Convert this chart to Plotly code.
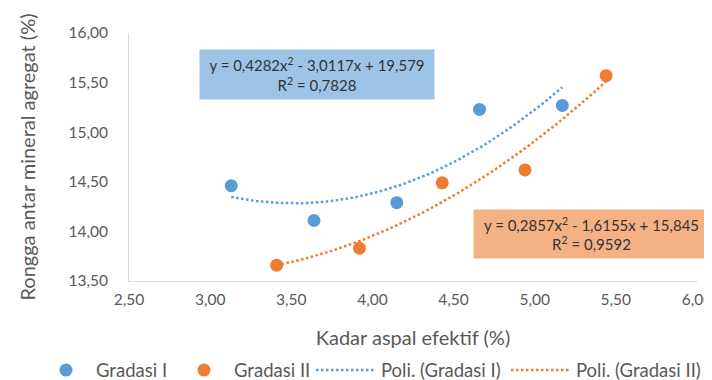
import numpy as np
import plotly.graph_objects as go

# Data
x_g1 = [3.13, 3.64, 4.15, 4.66, 5.17]
y_g1 = [14.46, 14.11, 14.29, 15.23, 15.27]
x_g2 = [3.41, 3.92, 4.43, 4.94, 5.44]
y_g2 = [13.66, 13.83, 14.49, 14.62, 15.57]

# Polynomial trendline coefficients (from chart labels)
coef_g1 = [0.4282, -3.0117, 19.579]
coef_g2 = [0.2857, -1.6155, 15.845]
r2_g1 = "0,7828"
r2_g2 = "0,9592"

x_ticks = [2.5, 3.0, 3.5, 4.0, 4.5, 5.0, 5.5, 6.0]
y_ticks = [13.5, 14.0, 14.5, 15.0, 15.5, 16.0]

BLUE = "#5B9BD5"
ORANGE = "#ED7D31"
FONT = "Lato"
GREY = "#595959"

fig = go.Figure()
fig.add_trace(go.Scatter(x=x_g1, y=y_g1, mode="markers", name="Gradasi I",
                         legend="legend", legendwidth=73,
                         marker=dict(color=BLUE, size=13)))
fig.add_trace(go.Scatter(x=x_g2, y=y_g2, mode="markers", name="Gradasi II",
                         legend="legend", legendwidth=73,
                         marker=dict(color=ORANGE, size=13)))

tx1 = np.linspace(min(x_g1), max(x_g1), 80)
tx2 = np.linspace(min(x_g2), max(x_g2), 80)
fig.add_trace(go.Scatter(x=tx1, y=np.polyval(coef_g1, tx1), mode="lines",
                         name="Poli. (Gradasi I)", legend="legend2", legendwidth=120,
                         line=dict(color=BLUE, width=2.5, dash="2.5px,2.5px")))
fig.add_trace(go.Scatter(x=tx2, y=np.polyval(coef_g2, tx2), mode="lines",
                         name="Poli. (Gradasi II)", legend="legend2", legendwidth=120,
                         line=dict(color=ORANGE, width=2.5, dash="2.5px,2.5px")))

def fmt(v):
    return f"{abs(v)}".replace(".", ",")

def eq_text(c, r2):
    return (f"y = {fmt(c[0])}x<sup>2</sup> - {fmt(c[1])}x + {fmt(c[2])}"
            f"<br>R<sup>2</sup> = {r2}")

fig.add_annotation(xref="paper", yref="paper", x=0.331, y=0.832,
                   xanchor="center", yanchor="middle",
                   text=eq_text(coef_g1, r2_g1), showarrow=False,
                   bgcolor="#9DC3E6", width=228, height=43, borderpad=3,
                   font=dict(family=FONT, size=15, color="#333333"))
fig.add_annotation(xref="paper", yref="paper", x=0.814, y=0.19,
                   xanchor="center", yanchor="middle",
                   text=eq_text(coef_g2, r2_g2), showarrow=False,
                   bgcolor="#F4B183", width=229, height=42, borderpad=3,
                   font=dict(family=FONT, size=15, color="#333333"))

legend_common = dict(orientation="h", xref="container", xanchor="left",
                     y=0.046, yref="container", yanchor="middle",
                     tracegroupgap=0, bgcolor="rgba(0,0,0,0)",
                     font=dict(family=FONT, size=18.5, color=GREY))

fig.update_layout(
    width=712, height=380,
    margin=dict(l=121, r=23, t=25, b=107),
    paper_bgcolor="white", plot_bgcolor="white",
    separators=",.",
    font=dict(family=FONT, size=15.5, color=GREY),
    showlegend=True,
    legend=dict(x=28 / 712, itemwidth=50, **legend_common),
    legend2=dict(x=303 / 712, itemwidth=60, **legend_common),
    xaxis=dict(range=[2.5, 6.0], tickvals=x_ticks, tickformat=".2f",
               showgrid=False, zeroline=False, showline=True, linecolor="#D9D9D9",
               linewidth=1, ticks="outside", ticklen=4, tickcolor="rgba(0,0,0,0)",
               automargin=False, tickfont=dict(size=15.5),
               title=dict(text="Kadar aspal efektif (%)", font=dict(size=20, color=GREY),
                          standoff=24)),
    yaxis=dict(range=[13.5, 16.0], tickvals=y_ticks, tickformat=".2f",
               showgrid=False, zeroline=False, showline=True, linecolor="#D9D9D9",
               linewidth=1, ticks="outside", ticklen=17, tickcolor="rgba(0,0,0,0)",
               automargin=False, tickfont=dict(size=15.5),
               title=dict(text="Rongga antar mineral agregat (%)",
                          font=dict(size=20, color=GREY), standoff=27)),
)

fig.write_html("out.html")
